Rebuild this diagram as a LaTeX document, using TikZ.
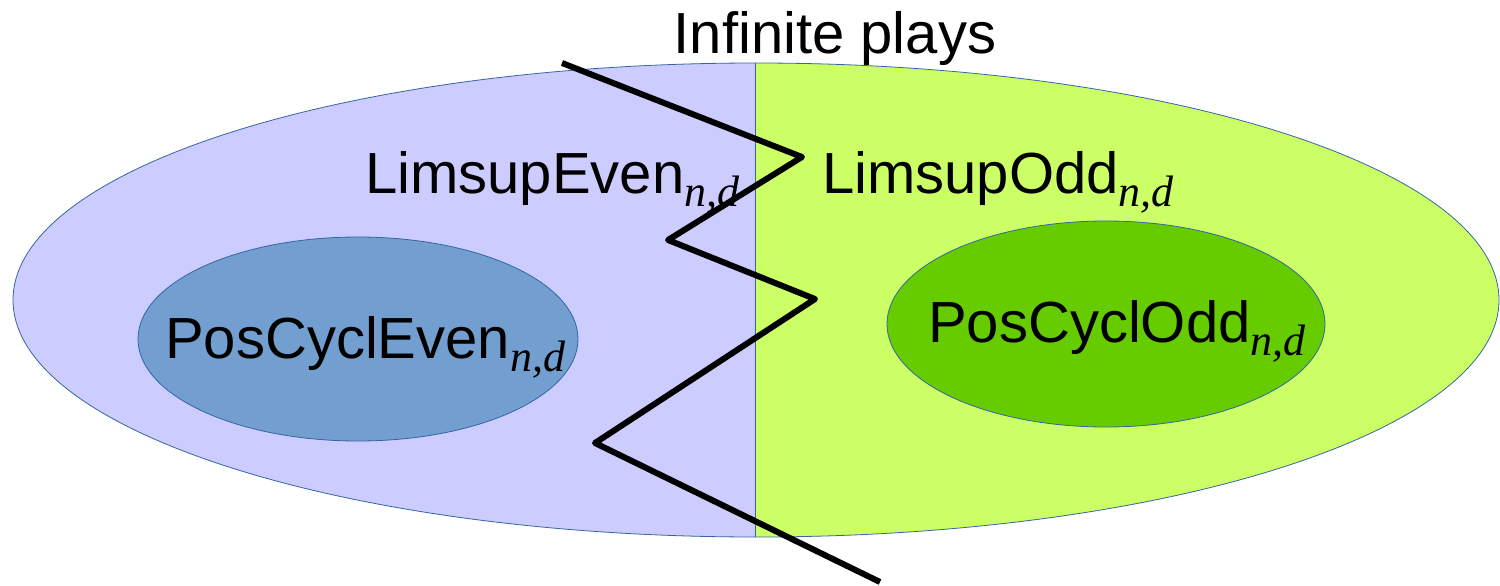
\documentclass[tikz,border=0pt]{standalone}
\usepackage{fontspec}
\setmainfont{Liberation Sans}
\newfontfamily\serifit{Liberation Serif}
\definecolor{evenbg}{HTML}{CCCCFF}
\definecolor{oddbg}{HTML}{CCFF66}
\definecolor{evenin}{HTML}{729FCF}
\definecolor{oddin}{HTML}{66CC00}
\definecolor{rim}{HTML}{3465A4}
\newcommand{\nd}{\raisebox{-13pt}{\fontsize{44}{44}\selectfont\serifit\itshape n,d}}
\tikzset{
  lbl/.style={anchor=base west, inner sep=0pt, font=\fontsize{58}{58}\selectfont},
  rimline/.style={draw=rim, line width=0.8pt}
}
\begin{document}
\begin{tikzpicture}[x=1pt,y=-1pt]
\useasboundingbox (0,0) rectangle (1500,586);
% outer set, split in two halves
\begin{scope}
\clip (0,0) rectangle (755,586);
\fill[evenbg] (756,300) ellipse [x radius=743pt, y radius=237pt];
\end{scope}
\begin{scope}
\clip (755,0) rectangle (1500,586);
\fill[oddbg] (756,300) ellipse [x radius=743pt, y radius=237pt];
\end{scope}
\path[rimline] (756,300) ellipse [x radius=743pt, y radius=237pt];
\path[rimline] (755,63) -- (755,537);
% inner sets
\path[rimline, fill=evenin] (358,339) ellipse [x radius=220pt, y radius=102pt];
\path[rimline, fill=oddin] (1106,324) ellipse [x radius=219pt, y radius=103pt];
% labels
\node[lbl] (limeven) at (365,193) {LimsupEven\nd};
\node[lbl] (limodd) at (822,193) {LimsupOdd\nd};
\node[lbl] (poseven) at (165,358) {PosCyclEven\nd};
\node[lbl] (posodd) at (928,342) {PosCyclOdd\nd};
\node[lbl, anchor=base] (title) at (835,54) {Infinite plays};
% zigzag
\draw[line width=6pt, line join=round] (562,63) -- (802,157) -- (668,240)
  -- (815,299) -- (595,443) -- (880,582);
\end{tikzpicture}
\end{document}
